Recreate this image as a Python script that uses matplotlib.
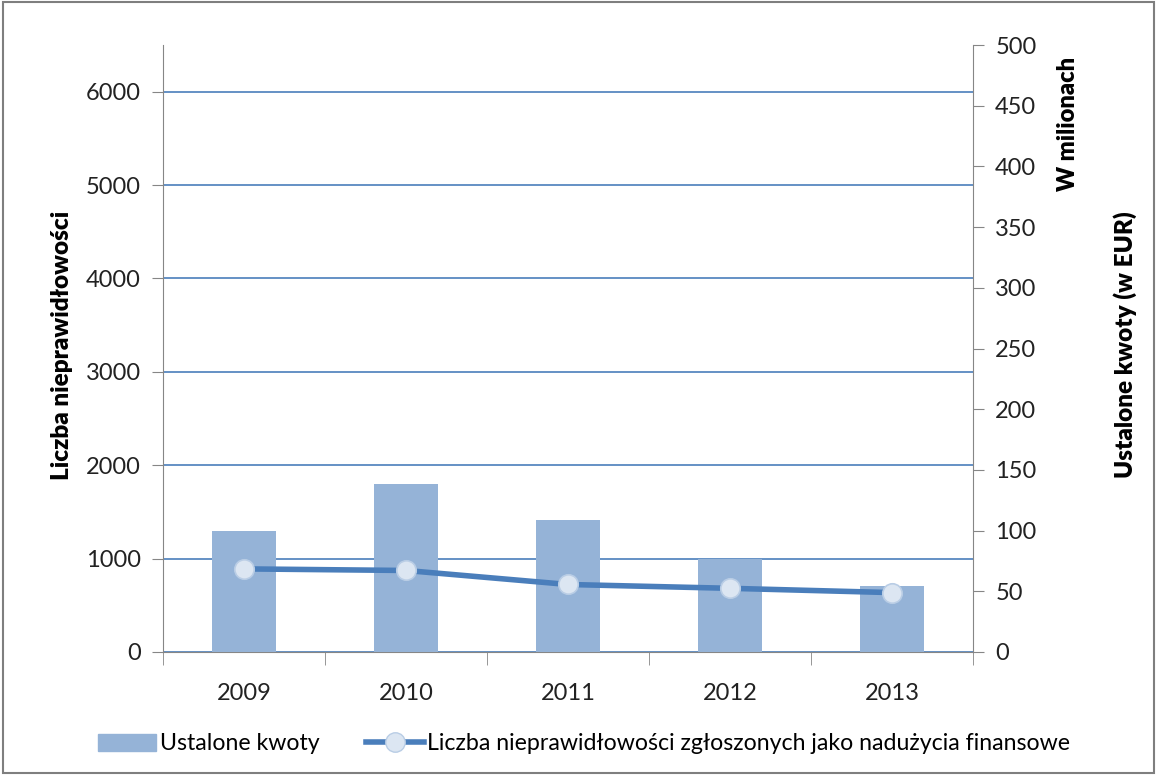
import matplotlib.pyplot as plt
from matplotlib.patches import Rectangle
from matplotlib.lines import Line2D

plt.rcParams['font.family'] = ['Lato', 'DejaVu Sans']

years = ['2009', '2010', '2011', '2012', '2013']
kwoty = [99.5, 138.5, 109, 77, 54]           # mln EUR, right axis
liczba = [890, 873, 723, 682, 636]           # count, left axis

BAR = '#95b3d7'
LINE = '#4a7ebb'
AXC = '#868686'


def do_plot():
    fig = plt.figure(figsize=(11.57, 7.75), dpi=100)
    ax = fig.add_axes([163 / 1157, 1 - 652 / 775, (973 - 163) / 1157, (652 - 45) / 775])
    ax2 = ax.twinx()

    x = range(len(years))
    ax2.bar(x, kwoty, width=0.4, color=BAR, zorder=2)
    ax2.set_ylim(0, 500)
    ax2.set_yticks(range(0, 501, 50))

    ax.set_ylim(0, 6500)
    ax.set_yticks(range(0, 6001, 1000))
    ax.set_xlim(-0.5, 4.5)
    ax.grid(axis='y', color=LINE, linewidth=1.2)
    ax.set_axisbelow(True)

    # line on top of bars: third overlay sharing the left scale
    ax3 = ax.twinx()
    ax3.set_ylim(0, 6500)
    ax3.axis('off')
    ax3.plot(x, liczba, '-o', color=LINE, linewidth=4, markersize=14,
             markerfacecolor='#dce6f2', markeredgecolor='#b9cde5', markeredgewidth=1.2)

    ax.set_xticks(list(x))
    ax.set_xticklabels(years)
    ax.set_xticks([i - 0.5 for i in range(6)], minor=True)
    ax.tick_params(axis='x', which='major', length=0, pad=22)
    ax.tick_params(axis='x', which='minor', length=9, color=AXC)
    ax.tick_params(axis='y', length=8, color=AXC, pad=8)
    ax2.tick_params(axis='y', length=8, color=AXC, pad=8)
    for a in (ax, ax2):
        a.tick_params(labelsize=17, labelcolor='#222222')
        a.spines['top'].set_visible(False)
        for s in ('left', 'right', 'bottom'):
            a.spines[s].set_color(AXC)
    ax.spines['right'].set_visible(False)
    ax2.spines['left'].set_visible(False)
    ax2.spines['bottom'].set_visible(False)

    fig.text(62 / 1157, 1 - 345 / 775, 'Liczba nieprawidłowości', rotation=90,
             ha='center', va='center', fontsize=17.5, fontweight='heavy')
    fig.text(1068 / 1157, 1 - 124 / 775, 'W milionach', rotation=90,
             ha='center', va='center', fontsize=17, fontweight='heavy')
    fig.text(1125 / 1157, 1 - 345 / 775, 'Ustalone kwoty (w EUR)', rotation=90,
             ha='center', va='center', fontsize=17.5, fontweight='heavy')

    handles = [Rectangle((0, 0), 1, 1, color=BAR),
               Line2D([], [], color=LINE, linewidth=4, marker='o', markersize=14,
                      markerfacecolor='#dce6f2', markeredgecolor='#b9cde5')]
    fig.legend(handles, ['Ustalone kwoty', 'Liczba nieprawidłowości zgłoszonych jako nadużycia finansowe'],
               loc='center', bbox_to_anchor=(0.505, 1 - 744 / 775), ncol=2, frameon=False,
               fontsize=16.7, handlelength=2.5, handleheight=0.8, handletextpad=0.15,
               columnspacing=2.0)

    fig.patches.append(Rectangle((0.003, 0.003), 0.994, 0.994, transform=fig.transFigure,
                                 fill=False, edgecolor='#7f7f7f', linewidth=1.5))
    plt.savefig('out.png', dpi=100)


if __name__ == '__main__':
    do_plot()
